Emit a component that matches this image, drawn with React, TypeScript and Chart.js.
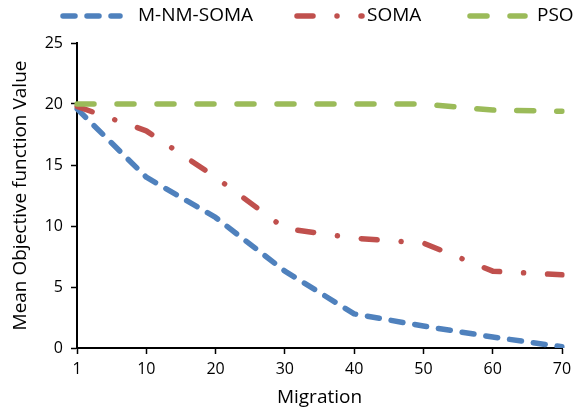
import React, { useEffect, useRef } from "react";
import { Chart, registerables } from "chart.js";

Chart.register(...registerables);

const categories = ["1", "10", "20", "30", "40", "50", "60", "70"];
const mnmSoma = [19.6, 14.0, 10.7, 6.3, 2.8, 1.8, 0.9, 0.1];
const soma = [19.8, 17.8, 14.0, 9.8, 9.0, 8.6, 6.3, 6.0];
const pso = [20.0, 20.0, 20.0, 20.0, 20.0, 20.0, 19.5, 19.4];
const yTicks = [0, 5, 10, 15, 20, 25];

const BLUE = "#4F81BD";
const RED = "#C0504D";
const GREEN = "#9BBB59";
const FONT = "'Open Sans', sans-serif";

const DASH_BLUE = [12, 12];
const DASH_RED = [16, 24, 0.01, 24];
const DASH_GREEN = [17, 23];

const legendPlugin = {
  id: "customLegend",
  afterDraw(chart: any) {
    const ctx = chart.ctx;
    const items = [
      { label: "M-NM-SOMA", color: BLUE, dash: DASH_BLUE, x0: 63, x1: 120, tx: 138 },
      { label: "SOMA", color: RED, dash: DASH_RED, x0: 297, x1: 362, tx: 367 },
      { label: "PSO", color: GREEN, dash: DASH_GREEN, x0: 470, x1: 525, tx: 537 },
    ];
    const y = 16;
    ctx.save();
    for (const it of items) {
      ctx.beginPath();
      ctx.strokeStyle = it.color;
      ctx.lineWidth = 5.5;
      ctx.lineCap = "round";
      ctx.setLineDash(it.dash);
      ctx.lineDashOffset = 0;
      ctx.moveTo(it.x0, y);
      ctx.lineTo(it.x1, y);
      ctx.stroke();
      ctx.setLineDash([]);
      ctx.fillStyle = "#000";
      ctx.font = `19px ${FONT}`;
      ctx.textBaseline = "middle";
      ctx.textAlign = "left";
      ctx.fillText(it.label, it.tx, y);
    }
    ctx.restore();
  },
};

export default function App() {
  const ref = useRef<HTMLCanvasElement | null>(null);

  useEffect(() => {
    if (!ref.current) return;
    const common = {
      fill: false,
      pointRadius: 0,
      pointHoverRadius: 0,
      borderWidth: 5.5,
      borderCapStyle: "round" as const,
      borderJoinStyle: "round" as const,
      tension: 0,
    };
    const chart = new Chart(ref.current, {
      type: "line",
      data: {
        labels: categories,
        datasets: [
          { ...common, label: "M-NM-SOMA", data: mnmSoma, borderColor: BLUE, backgroundColor: BLUE, borderDash: DASH_BLUE, order: 2 },
          { ...common, label: "SOMA", data: soma, borderColor: RED, backgroundColor: RED, borderDash: DASH_RED, order: 1 },
          { ...common, label: "PSO", data: pso, borderColor: GREEN, backgroundColor: GREEN, borderDash: DASH_GREEN, order: 0 },
        ],
      },
      options: {
        animation: false,
        responsive: false,
        devicePixelRatio: 1,
        layout: { padding: { top: 43, right: 23, left: 0, bottom: 0 } },
        plugins: {
          legend: { display: false },
          tooltip: { enabled: false },
        },
        scales: {
          x: {
            type: "category",
            offset: false,
            grid: {
              display: true,
              drawOnChartArea: false,
              drawTicks: true,
              tickLength: 6,
              tickColor: "#000",
              tickWidth: 1.5,
            },
            border: { display: true, color: "#000", width: 2 },
            ticks: {
              color: "#000",
              font: { family: FONT, size: 16 },
              padding: 6,
              maxRotation: 0,
              autoSkip: false,
            },
            title: {
              display: true,
              text: "Migration",
              color: "#000",
              font: { family: FONT, size: 19 },
              padding: { top: 0, bottom: 5 },
            },
            afterFit(scale: any) {
              scale.height = 66;
            },
          },
          y: {
            min: 0,
            max: 25,
            afterBuildTicks(scale: any) {
              scale.ticks = yTicks.map((v) => ({ value: v }));
            },
            grid: {
              display: true,
              drawOnChartArea: false,
              drawTicks: true,
              tickLength: 6,
              tickColor: "#000",
              tickWidth: 1.5,
            },
            border: { display: true, color: "#000", width: 2 },
            ticks: {
              color: "#000",
              font: { family: FONT, size: 16 },
              padding: 8,
            },
            title: {
              display: true,
              text: "Mean Objective function Value",
              color: "#000",
              font: { family: FONT, size: 19 },
              padding: { top: 9, bottom: 0 },
            },
            afterFit(scale: any) {
              scale.width = 77;
            },
          },
        },
      },
      plugins: [legendPlugin],
    });
    return () => chart.destroy();
  }, []);

  return (
    <div style={{ position: "fixed", left: 0, top: 0, width: 585, height: 414, background: "#fff" }}>
      <canvas ref={ref} width={585} height={414} style={{ display: "block" }} />
    </div>
  );
}
